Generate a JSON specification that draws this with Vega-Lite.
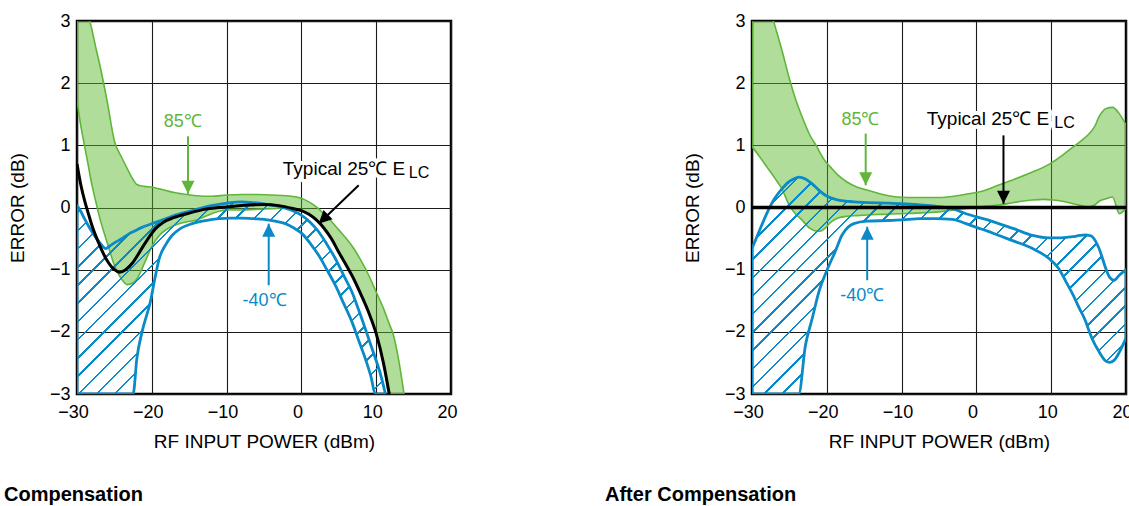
{
  "$schema": "https://vega.github.io/schema/vega-lite/v6.json",
  "background": "white",
  "padding": {"left": 2, "top": 10, "right": 5, "bottom": 5},
  "spacing": 144,
  "config": {
    "font": "Liberation Sans",
    "view": {"stroke": "#000", "strokeWidth": 2.5},
    "axis": {
      "grid": true, "gridColor": "#1a1a1a", "gridWidth": 1.1, "gridOpacity": 1,
      "domain": false, "ticks": false, "tickSize": 0,
      "labelFontSize": 18, "labelColor": "#000", "labelOverlap": false,
      "titleFontSize": 19, "titleFontWeight": "normal", "titleColor": "#000"
    }
  },
  "datasets": {
    "lg": [
      {"x": -30, "hi": 4.6, "lo": 1.72}, {"x": -29.5, "hi": 4.1, "lo": 1.32}, {"x": -29, "hi": 3.6, "lo": 1.0},
      {"x": -28.5, "hi": 3.12, "lo": 0.68}, {"x": -28, "hi": 2.86, "lo": 0.36}, {"x": -27.5, "hi": 2.58, "lo": 0.1},
      {"x": -27, "hi": 2.32, "lo": -0.15}, {"x": -26, "hi": 1.73, "lo": -0.55}, {"x": -25, "hi": 1.07, "lo": -0.93},
      {"x": -24, "hi": 0.8, "lo": -1.16}, {"x": -23.3, "hi": 0.63, "lo": -1.24}, {"x": -22.5, "hi": 0.45, "lo": -1.21},
      {"x": -22, "hi": 0.37, "lo": -1.15}, {"x": -21, "hi": 0.34, "lo": -0.9}, {"x": -20, "hi": 0.33, "lo": -0.63},
      {"x": -19, "hi": 0.3, "lo": -0.45}, {"x": -18, "hi": 0.27, "lo": -0.35}, {"x": -17, "hi": 0.24, "lo": -0.29},
      {"x": -16, "hi": 0.22, "lo": -0.25}, {"x": -14, "hi": 0.19, "lo": -0.2}, {"x": -12, "hi": 0.18, "lo": -0.1},
      {"x": -10, "hi": 0.2, "lo": -0.04}, {"x": -8, "hi": 0.21, "lo": -0.04}, {"x": -6, "hi": 0.21, "lo": -0.03},
      {"x": -4, "hi": 0.2, "lo": -0.02}, {"x": -2, "hi": 0.19, "lo": -0.01}, {"x": 0, "hi": 0.15, "lo": -0.05},
      {"x": 1, "hi": 0.09, "lo": -0.11}, {"x": 2, "hi": 0.01, "lo": -0.2}, {"x": 3, "hi": -0.1, "lo": -0.33},
      {"x": 4, "hi": -0.22, "lo": -0.5}, {"x": 5, "hi": -0.36, "lo": -0.72}, {"x": 6, "hi": -0.5, "lo": -0.93},
      {"x": 7, "hi": -0.66, "lo": -1.15}, {"x": 8, "hi": -0.86, "lo": -1.41}, {"x": 9, "hi": -1.09, "lo": -1.69},
      {"x": 10, "hi": -1.36, "lo": -2.03}, {"x": 11, "hi": -1.63, "lo": -2.52}, {"x": 11.7, "hi": -1.86, "lo": -2.97},
      {"x": 12.3, "hi": -2.05, "lo": -3.0}, {"x": 13, "hi": -2.45, "lo": -3.0}, {"x": 13.7, "hi": -2.98, "lo": -3.0}
    ],
    "lb": [
      {"x": -30, "hi": 0.03, "lo": -3}, {"x": -29.5, "hi": -0.06, "lo": -3}, {"x": -29, "hi": -0.18, "lo": -3},
      {"x": -28.5, "hi": -0.29, "lo": -3}, {"x": -28, "hi": -0.39, "lo": -3}, {"x": -27.5, "hi": -0.48, "lo": -3},
      {"x": -27, "hi": -0.56, "lo": -3}, {"x": -26.5, "hi": -0.63, "lo": -3}, {"x": -26.2, "hi": -0.66, "lo": -3},
      {"x": -25.5, "hi": -0.61, "lo": -3}, {"x": -25, "hi": -0.57, "lo": -3}, {"x": -24, "hi": -0.5, "lo": -3},
      {"x": -23, "hi": -0.42, "lo": -3}, {"x": -22.5, "hi": -0.39, "lo": -3}, {"x": -22, "hi": -0.36, "lo": -2.43},
      {"x": -21.3, "hi": -0.32, "lo": -2.0}, {"x": -20.2, "hi": -0.27, "lo": -1.52}, {"x": -19.5, "hi": -0.24, "lo": -1.09},
      {"x": -19, "hi": -0.22, "lo": -0.82}, {"x": -18.2, "hi": -0.18, "lo": -0.61}, {"x": -17.3, "hi": -0.14, "lo": -0.45},
      {"x": -16.2, "hi": -0.1, "lo": -0.34}, {"x": -14.6, "hi": -0.05, "lo": -0.26}, {"x": -12.8, "hi": 0.01, "lo": -0.21},
      {"x": -11, "hi": 0.05, "lo": -0.18}, {"x": -9.5, "hi": 0.08, "lo": -0.17}, {"x": -8, "hi": 0.09, "lo": -0.17},
      {"x": -6.5, "hi": 0.08, "lo": -0.18}, {"x": -5, "hi": 0.06, "lo": -0.19}, {"x": -3.5, "hi": 0.03, "lo": -0.22},
      {"x": -2.15, "hi": -0.01, "lo": -0.26}, {"x": -1, "hi": -0.06, "lo": -0.33}, {"x": 0.08, "hi": -0.13, "lo": -0.42},
      {"x": 1.2, "hi": -0.24, "lo": -0.58}, {"x": 2.31, "hi": -0.39, "lo": -0.77}, {"x": 3.4, "hi": -0.59, "lo": -1.0},
      {"x": 4.53, "hi": -0.82, "lo": -1.25}, {"x": 5.6, "hi": -1.08, "lo": -1.53}, {"x": 6.76, "hi": -1.36, "lo": -1.84},
      {"x": 7.6, "hi": -1.63, "lo": -2.12}, {"x": 8.54, "hi": -1.95, "lo": -2.43}, {"x": 9.3, "hi": -2.22, "lo": -2.72},
      {"x": 9.88, "hi": -2.42, "lo": -3.0}, {"x": 10.5, "hi": -2.65, "lo": -3.0}, {"x": 11.2, "hi": -2.98, "lo": -3.0}
    ],
    "lk": [
      {"x": -30, "y": 0.7}, {"x": -29.5, "y": 0.37}, {"x": -29, "y": 0.12}, {"x": -28.5, "y": -0.09},
      {"x": -28, "y": -0.29}, {"x": -27, "y": -0.6}, {"x": -26, "y": -0.85}, {"x": -25, "y": -1.0},
      {"x": -24.3, "y": -1.04}, {"x": -23.5, "y": -1.0}, {"x": -22.5, "y": -0.88}, {"x": -21.5, "y": -0.69},
      {"x": -20.5, "y": -0.5}, {"x": -19.5, "y": -0.34}, {"x": -18.5, "y": -0.24}, {"x": -17, "y": -0.16},
      {"x": -15, "y": -0.09}, {"x": -13, "y": -0.03}, {"x": -11, "y": 0.0}, {"x": -9, "y": 0.02},
      {"x": -7, "y": 0.04}, {"x": -5, "y": 0.05}, {"x": -3, "y": 0.03}, {"x": -1, "y": -0.02},
      {"x": 0, "y": -0.05}, {"x": 1, "y": -0.11}, {"x": 2, "y": -0.2}, {"x": 3, "y": -0.33},
      {"x": 4, "y": -0.5}, {"x": 5, "y": -0.72}, {"x": 6, "y": -0.93}, {"x": 7, "y": -1.15},
      {"x": 8, "y": -1.41}, {"x": 9, "y": -1.69}, {"x": 10, "y": -2.03}, {"x": 11, "y": -2.52},
      {"x": 11.7, "y": -2.97}, {"x": 12.1, "y": -3.25}
    ],
    "rg": [
      {"x": -30, "hi": 4.1, "lo": 0.98}, {"x": -29, "hi": 3.75, "lo": 0.82}, {"x": -28, "hi": 3.37, "lo": 0.65},
      {"x": -27, "hi": 2.95, "lo": 0.48}, {"x": -26, "hi": 2.53, "lo": 0.3}, {"x": -25, "hi": 2.07, "lo": 0.03},
      {"x": -24.2, "hi": 1.75, "lo": -0.1}, {"x": -23.5, "hi": 1.52, "lo": -0.18}, {"x": -22.2, "hi": 1.15, "lo": -0.34},
      {"x": -21.3, "hi": 0.97, "lo": -0.38}, {"x": -20.9, "hi": 0.88, "lo": -0.38}, {"x": -20.3, "hi": 0.76, "lo": -0.34},
      {"x": -19.5, "hi": 0.65, "lo": -0.24}, {"x": -18.5, "hi": 0.52, "lo": -0.17}, {"x": -17.3, "hi": 0.41, "lo": -0.14},
      {"x": -16, "hi": 0.33, "lo": -0.13}, {"x": -14.6, "hi": 0.28, "lo": -0.12}, {"x": -12.5, "hi": 0.21, "lo": -0.11},
      {"x": -10.5, "hi": 0.17, "lo": -0.1}, {"x": -8, "hi": 0.16, "lo": -0.09}, {"x": -5, "hi": 0.16, "lo": -0.07},
      {"x": -3, "hi": 0.18, "lo": -0.04}, {"x": -1, "hi": 0.22, "lo": -0.01}, {"x": 1, "hi": 0.27, "lo": 0.02},
      {"x": 3, "hi": 0.36, "lo": 0.04}, {"x": 5, "hi": 0.45, "lo": 0.08}, {"x": 7.5, "hi": 0.57, "lo": 0.12},
      {"x": 9, "hi": 0.65, "lo": 0.13}, {"x": 10.2, "hi": 0.73, "lo": 0.12}, {"x": 11.5, "hi": 0.84, "lo": 0.1},
      {"x": 12.9, "hi": 0.97, "lo": 0.06}, {"x": 14, "hi": 1.07, "lo": 0.03}, {"x": 15.1, "hi": 1.19, "lo": 0.01},
      {"x": 15.8, "hi": 1.3, "lo": 0.04}, {"x": 16.4, "hi": 1.46, "lo": 0.1}, {"x": 17.3, "hi": 1.59, "lo": 0.14},
      {"x": 18.2, "hi": 1.61, "lo": 0.17}, {"x": 19.1, "hi": 1.51, "lo": -0.1}, {"x": 20, "hi": 1.33, "lo": -0.01}
    ],
    "rb": [
      {"x": -30, "hi": -0.66, "lo": -3}, {"x": -29, "hi": -0.37, "lo": -3}, {"x": -28, "hi": -0.09, "lo": -3},
      {"x": -27, "hi": 0.14, "lo": -3}, {"x": -26, "hi": 0.3, "lo": -3}, {"x": -25, "hi": 0.42, "lo": -3},
      {"x": -24, "hi": 0.48, "lo": -3}, {"x": -23.75, "hi": 0.49, "lo": -3.0}, {"x": -22.86, "hi": 0.46, "lo": -2.22},
      {"x": -21.96, "hi": 0.38, "lo": -1.79}, {"x": -21.07, "hi": 0.28, "lo": -1.36}, {"x": -19.95, "hi": 0.18, "lo": -1.0},
      {"x": -18.84, "hi": 0.13, "lo": -0.7}, {"x": -18, "hi": 0.11, "lo": -0.45}, {"x": -17.2, "hi": 0.1, "lo": -0.32},
      {"x": -16.4, "hi": 0.09, "lo": -0.26}, {"x": -14.6, "hi": 0.08, "lo": -0.22}, {"x": -12, "hi": 0.07, "lo": -0.21},
      {"x": -10, "hi": 0.06, "lo": -0.2}, {"x": -7.5, "hi": 0.04, "lo": -0.18}, {"x": -5.5, "hi": 0.02, "lo": -0.18},
      {"x": -3.2, "hi": -0.02, "lo": -0.19}, {"x": -1.4, "hi": -0.1, "lo": -0.26}, {"x": 0, "hi": -0.15, "lo": -0.32},
      {"x": 1.5, "hi": -0.2, "lo": -0.38}, {"x": 3, "hi": -0.26, "lo": -0.45}, {"x": 5, "hi": -0.34, "lo": -0.54},
      {"x": 7.5, "hi": -0.45, "lo": -0.66}, {"x": 9.7, "hi": -0.49, "lo": -0.82}, {"x": 11, "hi": -0.49, "lo": -0.98},
      {"x": 12, "hi": -0.48, "lo": -1.2}, {"x": 12.9, "hi": -0.47, "lo": -1.4}, {"x": 13.8, "hi": -0.45, "lo": -1.63},
      {"x": 14.6, "hi": -0.44, "lo": -1.83}, {"x": 15.1, "hi": -0.45, "lo": -2.0}, {"x": 15.5, "hi": -0.47, "lo": -2.12},
      {"x": 16.4, "hi": -0.66, "lo": -2.32}, {"x": 17.3, "hi": -0.98, "lo": -2.47}, {"x": 17.8, "hi": -1.12, "lo": -2.49},
      {"x": 18.4, "hi": -1.17, "lo": -2.46}, {"x": 19.1, "hi": -1.09, "lo": -2.33}, {"x": 20, "hi": -1.0, "lo": -2.1}
    ],
    "rk": [{"x": -30, "y": 0}, {"x": 20, "y": 0}],
    "la": [
      {"s": "85℃", "x": -15.16, "y": 1.145, "x2": -15.16, "y2": 0.22},
      {"s": "-40℃", "x": -4.37, "y": -1.25, "x2": -4.37, "y2": -0.26},
      {"s": "25℃", "x": 7.66, "y": 0.357, "x2": 2.31, "y2": -0.26}
    ],
    "ra": [
      {"s": "85℃", "x": -14.8, "y": 1.19, "x2": -14.8, "y2": 0.357},
      {"s": "-40℃", "x": -14.6, "y": -1.17, "x2": -14.6, "y2": -0.31},
      {"s": "25℃", "x": 3.62, "y": 1.16, "x2": 3.62, "y2": 0.06}
    ],
    "lc": [
      {"s": "85℃", "label": "85℃", "x": -15.86, "y": 1.372},
      {"s": "-40℃", "label": "-40℃", "x": -4.93, "y": -1.509}
    ],
    "rc": [
      {"s": "85℃", "label": "85℃", "x": -15.5, "y": 1.4},
      {"s": "-40℃", "label": "-40℃", "x": -15.27, "y": -1.428}
    ],
    "lm": [
      {"part": "main", "label": "Typical 25℃ E", "x": 13.89, "y": 0.518},
      {"part": "sub", "label": "LC", "x": 14.35, "y": 0.47}
    ],
    "rm": [
      {"part": "main", "label": "Typical 25℃ E", "x": 9.74, "y": 1.332},
      {"part": "sub", "label": "LC", "x": 10.41, "y": 1.279}
    ]
  },
  "hconcat": [
    {
      "width": 374, "height": 373,
      "title": {"text": "Compensation", "orient": "bottom", "anchor": "start", "frame": "group", "dx": -73, "offset": 34, "fontSize": 20, "fontWeight": "bold", "color": "#000"},
      "encoding": {
        "x": {"type": "quantitative", "scale": {"domain": [-30, 20], "nice": false, "zero": false},
              "axis": {"title": "RF INPUT POWER (dBm)", "values": [-30, -20, -10, 0, 10, 20], "format": "d", "labelPadding": 9, "titlePadding": 11, "labelFlush": false, "labelOffset": -4}},
        "y": {"type": "quantitative", "scale": {"domain": [-3, 3], "nice": false, "zero": false},
              "axis": {"title": "ERROR (dB)", "values": [-3, -2, -1, 0, 1, 2, 3], "format": "d", "labelPadding": 7, "titlePadding": 22}},
        "color": {"type": "nominal", "scale": {"domain": ["85℃", "-40℃", "25℃"], "range": ["#5fb63a", "#0a8ac6", "#000000"]}, "legend": null}
      },
      "layer": [
        {
          "data": {"name": "lg"},
          "mark": {"type": "area", "interpolate": "monotone", "fill": "#5cb82e", "fillOpacity": 0.48, "stroke": "#5fb63a", "strokeWidth": 1.6, "clip": true},
          "encoding": {"x": {"field": "x"}, "y": {"field": "hi"}, "y2": {"field": "lo"}}
        },
        {
          "data": {"name": "lb"},
          "mark": {"type": "area", "interpolate": "monotone", "clip": true, "stroke": "#0a8ac6", "strokeWidth": 2.8, "strokeJoin": "round",
            "fill": {"gradient": "linear", "x1": 0, "y1": 0, "x2": 1.1691, "y2": 0.7287, "stops": [
              {"offset": 0, "color": "transparent"},
              {"offset": 0.0200, "color": "transparent"}, {"offset": 0.0200, "color": "#0a8ac6"}, {"offset": 0.0251, "color": "#0a8ac6"}, {"offset": 0.0251, "color": "transparent"},
              {"offset": 0.0564, "color": "transparent"}, {"offset": 0.0564, "color": "#0a8ac6"}, {"offset": 0.0615, "color": "#0a8ac6"}, {"offset": 0.0615, "color": "transparent"},
              {"offset": 0.0928, "color": "transparent"}, {"offset": 0.0928, "color": "#0a8ac6"}, {"offset": 0.0979, "color": "#0a8ac6"}, {"offset": 0.0979, "color": "transparent"},
              {"offset": 0.1292, "color": "transparent"}, {"offset": 0.1292, "color": "#0a8ac6"}, {"offset": 0.1343, "color": "#0a8ac6"}, {"offset": 0.1343, "color": "transparent"},
              {"offset": 0.1656, "color": "transparent"}, {"offset": 0.1656, "color": "#0a8ac6"}, {"offset": 0.1707, "color": "#0a8ac6"}, {"offset": 0.1707, "color": "transparent"},
              {"offset": 0.2020, "color": "transparent"}, {"offset": 0.2020, "color": "#0a8ac6"}, {"offset": 0.2071, "color": "#0a8ac6"}, {"offset": 0.2071, "color": "transparent"},
              {"offset": 0.2384, "color": "transparent"}, {"offset": 0.2384, "color": "#0a8ac6"}, {"offset": 0.2435, "color": "#0a8ac6"}, {"offset": 0.2435, "color": "transparent"},
              {"offset": 0.2748, "color": "transparent"}, {"offset": 0.2748, "color": "#0a8ac6"}, {"offset": 0.2799, "color": "#0a8ac6"}, {"offset": 0.2799, "color": "transparent"},
              {"offset": 0.3112, "color": "transparent"}, {"offset": 0.3112, "color": "#0a8ac6"}, {"offset": 0.3163, "color": "#0a8ac6"}, {"offset": 0.3163, "color": "transparent"},
              {"offset": 0.3476, "color": "transparent"}, {"offset": 0.3476, "color": "#0a8ac6"}, {"offset": 0.3527, "color": "#0a8ac6"}, {"offset": 0.3527, "color": "transparent"},
              {"offset": 0.3840, "color": "transparent"}, {"offset": 0.3840, "color": "#0a8ac6"}, {"offset": 0.3891, "color": "#0a8ac6"}, {"offset": 0.3891, "color": "transparent"},
              {"offset": 0.4204, "color": "transparent"}, {"offset": 0.4204, "color": "#0a8ac6"}, {"offset": 0.4255, "color": "#0a8ac6"}, {"offset": 0.4255, "color": "transparent"},
              {"offset": 0.4568, "color": "transparent"}, {"offset": 0.4568, "color": "#0a8ac6"}, {"offset": 0.4619, "color": "#0a8ac6"}, {"offset": 0.4619, "color": "transparent"},
              {"offset": 0.4932, "color": "transparent"}, {"offset": 0.4932, "color": "#0a8ac6"}, {"offset": 0.4983, "color": "#0a8ac6"}, {"offset": 0.4983, "color": "transparent"},
              {"offset": 0.5296, "color": "transparent"}, {"offset": 0.5296, "color": "#0a8ac6"}, {"offset": 0.5347, "color": "#0a8ac6"}, {"offset": 0.5347, "color": "transparent"},
              {"offset": 0.5660, "color": "transparent"}, {"offset": 0.5660, "color": "#0a8ac6"}, {"offset": 0.5711, "color": "#0a8ac6"}, {"offset": 0.5711, "color": "transparent"},
              {"offset": 0.6024, "color": "transparent"}, {"offset": 0.6024, "color": "#0a8ac6"}, {"offset": 0.6075, "color": "#0a8ac6"}, {"offset": 0.6075, "color": "transparent"},
              {"offset": 0.6388, "color": "transparent"}, {"offset": 0.6388, "color": "#0a8ac6"}, {"offset": 0.6439, "color": "#0a8ac6"}, {"offset": 0.6439, "color": "transparent"},
              {"offset": 0.6752, "color": "transparent"}, {"offset": 0.6752, "color": "#0a8ac6"}, {"offset": 0.6803, "color": "#0a8ac6"}, {"offset": 0.6803, "color": "transparent"},
              {"offset": 0.7116, "color": "transparent"}, {"offset": 0.7116, "color": "#0a8ac6"}, {"offset": 0.7167, "color": "#0a8ac6"}, {"offset": 0.7167, "color": "transparent"},
              {"offset": 0.7480, "color": "transparent"}, {"offset": 0.7480, "color": "#0a8ac6"}, {"offset": 0.7531, "color": "#0a8ac6"}, {"offset": 0.7531, "color": "transparent"},
              {"offset": 0.7844, "color": "transparent"}, {"offset": 0.7844, "color": "#0a8ac6"}, {"offset": 0.7895, "color": "#0a8ac6"}, {"offset": 0.7895, "color": "transparent"},
              {"offset": 0.8208, "color": "transparent"}, {"offset": 0.8208, "color": "#0a8ac6"}, {"offset": 0.8259, "color": "#0a8ac6"}, {"offset": 0.8259, "color": "transparent"},
              {"offset": 0.8572, "color": "transparent"}, {"offset": 0.8572, "color": "#0a8ac6"}, {"offset": 0.8623, "color": "#0a8ac6"}, {"offset": 0.8623, "color": "transparent"},
              {"offset": 0.8936, "color": "transparent"}, {"offset": 0.8936, "color": "#0a8ac6"}, {"offset": 0.8987, "color": "#0a8ac6"}, {"offset": 0.8987, "color": "transparent"},
              {"offset": 0.9300, "color": "transparent"}, {"offset": 0.9300, "color": "#0a8ac6"}, {"offset": 0.9351, "color": "#0a8ac6"}, {"offset": 0.9351, "color": "transparent"},
              {"offset": 0.9664, "color": "transparent"}, {"offset": 0.9664, "color": "#0a8ac6"}, {"offset": 0.9715, "color": "#0a8ac6"}, {"offset": 0.9715, "color": "transparent"},
              {"offset": 1, "color": "transparent"}
            ]}},
          "encoding": {"x": {"field": "x"}, "y": {"field": "hi"}, "y2": {"field": "lo"}}
        },
        {
          "data": {"name": "lk"},
          "mark": {"type": "line", "interpolate": "monotone", "color": "#000", "strokeWidth": 3, "clip": true},
          "encoding": {"x": {"field": "x"}, "y": {"field": "y"}}
        },
        {
          "data": {"name": "la"},
          "mark": {"type": "rule", "strokeWidth": 2},
          "encoding": {"x": {"field": "x"}, "y": {"field": "y"}, "x2": {"field": "x2"}, "y2": {"field": "y2"}, "color": {"field": "s"}}
        },
        {
          "data": {"name": "la"},
          "transform": [{"filter": "datum.s == '85℃'"}],
          "mark": {"type": "point", "shape": "M-0.5,-1L0.5,-1L0,0Z", "size": 676, "filled": true, "opacity": 1, "strokeWidth": 0},
          "encoding": {"x": {"field": "x2"}, "y": {"field": "y2"}, "color": {"field": "s"}}
        },
        {
          "data": {"name": "la"},
          "transform": [{"filter": "datum.s == '-40℃'"}],
          "mark": {"type": "point", "shape": "M-0.5,1L0.5,1L0,0Z", "size": 676, "filled": true, "opacity": 1, "strokeWidth": 0},
          "encoding": {"x": {"field": "x2"}, "y": {"field": "y2"}, "color": {"field": "s"}}
        },
        {
          "data": {"name": "la"},
          "transform": [{"filter": "datum.s == '25℃'"}],
          "mark": {"type": "point", "shape": "M-0.5,-1L0.5,-1L0,0Z", "size": 676, "angle": 46, "filled": true, "opacity": 1, "strokeWidth": 0},
          "encoding": {"x": {"field": "x2"}, "y": {"field": "y2"}, "color": {"field": "s"}}
        },
        {
          "data": {"name": "lc"},
          "mark": {"type": "text", "align": "center", "baseline": "middle", "fontSize": 18},
          "encoding": {"x": {"field": "x"}, "y": {"field": "y"}, "text": {"field": "label"}, "color": {"field": "s"}}
        },
        {
          "data": {"name": "lm"},
          "transform": [{"filter": "datum.part == 'main'"}],
          "mark": {"type": "text", "align": "right", "baseline": "alphabetic", "fontSize": 19, "fill": "white", "stroke": "white", "strokeWidth": 8, "strokeJoin": "round"},
          "encoding": {"x": {"field": "x"}, "y": {"field": "y"}, "text": {"field": "label"}}
        },
        {
          "data": {"name": "lm"},
          "transform": [{"filter": "datum.part == 'sub'"}],
          "mark": {"type": "text", "align": "left", "baseline": "alphabetic", "fontSize": 16, "fill": "white", "stroke": "white", "strokeWidth": 8, "strokeJoin": "round"},
          "encoding": {"x": {"field": "x"}, "y": {"field": "y"}, "text": {"field": "label"}}
        },
        {
          "data": {"name": "lm"},
          "transform": [{"filter": "datum.part == 'main'"}],
          "mark": {"type": "text", "align": "right", "baseline": "alphabetic", "fontSize": 19, "fill": "#000"},
          "encoding": {"x": {"field": "x"}, "y": {"field": "y"}, "text": {"field": "label"}}
        },
        {
          "data": {"name": "lm"},
          "transform": [{"filter": "datum.part == 'sub'"}],
          "mark": {"type": "text", "align": "left", "baseline": "alphabetic", "fontSize": 16, "fill": "#000"},
          "encoding": {"x": {"field": "x"}, "y": {"field": "y"}, "text": {"field": "label"}}
        }
      ]
    },
    {
      "width": 374, "height": 373,
      "title": {"text": "After Compensation", "orient": "bottom", "anchor": "start", "frame": "group", "dx": -147, "offset": 34, "fontSize": 20, "fontWeight": "bold", "color": "#000"},
      "encoding": {
        "x": {"type": "quantitative", "scale": {"domain": [-30, 20], "nice": false, "zero": false},
              "axis": {"title": "RF INPUT POWER (dBm)", "values": [-30, -20, -10, 0, 10, 20], "format": "d", "labelPadding": 9, "titlePadding": 11, "labelFlush": false, "labelOffset": -4}},
        "y": {"type": "quantitative", "scale": {"domain": [-3, 3], "nice": false, "zero": false},
              "axis": {"title": "ERROR (dB)", "values": [-3, -2, -1, 0, 1, 2, 3], "format": "d", "labelPadding": 7, "titlePadding": 22}},
        "color": {"type": "nominal", "scale": {"domain": ["85℃", "-40℃", "25℃"], "range": ["#5fb63a", "#0a8ac6", "#000000"]}, "legend": null}
      },
      "layer": [
        {
          "data": {"name": "rg"},
          "mark": {"type": "area", "interpolate": "monotone", "fill": "#5cb82e", "fillOpacity": 0.48, "stroke": "#5fb63a", "strokeWidth": 1.6, "clip": true},
          "encoding": {"x": {"field": "x"}, "y": {"field": "hi"}, "y2": {"field": "lo"}}
        },
        {
          "data": {"name": "rb"},
          "mark": {"type": "area", "interpolate": "monotone", "clip": true, "stroke": "#0a8ac6", "strokeWidth": 2.8, "strokeJoin": "round",
            "fill": {"gradient": "linear", "x1": 0, "y1": 0, "x2": 1.1822, "y2": 0.686, "stops": [
              {"offset": 0, "color": "transparent"},
              {"offset": 0.0150, "color": "transparent"}, {"offset": 0.0150, "color": "#0a8ac6"}, {"offset": 0.0193, "color": "#0a8ac6"}, {"offset": 0.0193, "color": "transparent"},
              {"offset": 0.0458, "color": "transparent"}, {"offset": 0.0458, "color": "#0a8ac6"}, {"offset": 0.0501, "color": "#0a8ac6"}, {"offset": 0.0501, "color": "transparent"},
              {"offset": 0.0767, "color": "transparent"}, {"offset": 0.0767, "color": "#0a8ac6"}, {"offset": 0.0810, "color": "#0a8ac6"}, {"offset": 0.0810, "color": "transparent"},
              {"offset": 0.1075, "color": "transparent"}, {"offset": 0.1075, "color": "#0a8ac6"}, {"offset": 0.1118, "color": "#0a8ac6"}, {"offset": 0.1118, "color": "transparent"},
              {"offset": 0.1383, "color": "transparent"}, {"offset": 0.1383, "color": "#0a8ac6"}, {"offset": 0.1426, "color": "#0a8ac6"}, {"offset": 0.1426, "color": "transparent"},
              {"offset": 0.1692, "color": "transparent"}, {"offset": 0.1692, "color": "#0a8ac6"}, {"offset": 0.1735, "color": "#0a8ac6"}, {"offset": 0.1735, "color": "transparent"},
              {"offset": 0.2000, "color": "transparent"}, {"offset": 0.2000, "color": "#0a8ac6"}, {"offset": 0.2043, "color": "#0a8ac6"}, {"offset": 0.2043, "color": "transparent"},
              {"offset": 0.2308, "color": "transparent"}, {"offset": 0.2308, "color": "#0a8ac6"}, {"offset": 0.2351, "color": "#0a8ac6"}, {"offset": 0.2351, "color": "transparent"},
              {"offset": 0.2616, "color": "transparent"}, {"offset": 0.2616, "color": "#0a8ac6"}, {"offset": 0.2659, "color": "#0a8ac6"}, {"offset": 0.2659, "color": "transparent"},
              {"offset": 0.2925, "color": "transparent"}, {"offset": 0.2925, "color": "#0a8ac6"}, {"offset": 0.2968, "color": "#0a8ac6"}, {"offset": 0.2968, "color": "transparent"},
              {"offset": 0.3233, "color": "transparent"}, {"offset": 0.3233, "color": "#0a8ac6"}, {"offset": 0.3276, "color": "#0a8ac6"}, {"offset": 0.3276, "color": "transparent"},
              {"offset": 0.3541, "color": "transparent"}, {"offset": 0.3541, "color": "#0a8ac6"}, {"offset": 0.3584, "color": "#0a8ac6"}, {"offset": 0.3584, "color": "transparent"},
              {"offset": 0.3850, "color": "transparent"}, {"offset": 0.3850, "color": "#0a8ac6"}, {"offset": 0.3893, "color": "#0a8ac6"}, {"offset": 0.3893, "color": "transparent"},
              {"offset": 0.4158, "color": "transparent"}, {"offset": 0.4158, "color": "#0a8ac6"}, {"offset": 0.4201, "color": "#0a8ac6"}, {"offset": 0.4201, "color": "transparent"},
              {"offset": 0.4466, "color": "transparent"}, {"offset": 0.4466, "color": "#0a8ac6"}, {"offset": 0.4509, "color": "#0a8ac6"}, {"offset": 0.4509, "color": "transparent"},
              {"offset": 0.4775, "color": "transparent"}, {"offset": 0.4775, "color": "#0a8ac6"}, {"offset": 0.4818, "color": "#0a8ac6"}, {"offset": 0.4818, "color": "transparent"},
              {"offset": 0.5083, "color": "transparent"}, {"offset": 0.5083, "color": "#0a8ac6"}, {"offset": 0.5126, "color": "#0a8ac6"}, {"offset": 0.5126, "color": "transparent"},
              {"offset": 0.5391, "color": "transparent"}, {"offset": 0.5391, "color": "#0a8ac6"}, {"offset": 0.5434, "color": "#0a8ac6"}, {"offset": 0.5434, "color": "transparent"},
              {"offset": 0.5699, "color": "transparent"}, {"offset": 0.5699, "color": "#0a8ac6"}, {"offset": 0.5742, "color": "#0a8ac6"}, {"offset": 0.5742, "color": "transparent"},
              {"offset": 0.6008, "color": "transparent"}, {"offset": 0.6008, "color": "#0a8ac6"}, {"offset": 0.6051, "color": "#0a8ac6"}, {"offset": 0.6051, "color": "transparent"},
              {"offset": 0.6316, "color": "transparent"}, {"offset": 0.6316, "color": "#0a8ac6"}, {"offset": 0.6359, "color": "#0a8ac6"}, {"offset": 0.6359, "color": "transparent"},
              {"offset": 0.6624, "color": "transparent"}, {"offset": 0.6624, "color": "#0a8ac6"}, {"offset": 0.6667, "color": "#0a8ac6"}, {"offset": 0.6667, "color": "transparent"},
              {"offset": 0.6933, "color": "transparent"}, {"offset": 0.6933, "color": "#0a8ac6"}, {"offset": 0.6976, "color": "#0a8ac6"}, {"offset": 0.6976, "color": "transparent"},
              {"offset": 0.7241, "color": "transparent"}, {"offset": 0.7241, "color": "#0a8ac6"}, {"offset": 0.7284, "color": "#0a8ac6"}, {"offset": 0.7284, "color": "transparent"},
              {"offset": 0.7549, "color": "transparent"}, {"offset": 0.7549, "color": "#0a8ac6"}, {"offset": 0.7592, "color": "#0a8ac6"}, {"offset": 0.7592, "color": "transparent"},
              {"offset": 0.7858, "color": "transparent"}, {"offset": 0.7858, "color": "#0a8ac6"}, {"offset": 0.7901, "color": "#0a8ac6"}, {"offset": 0.7901, "color": "transparent"},
              {"offset": 0.8166, "color": "transparent"}, {"offset": 0.8166, "color": "#0a8ac6"}, {"offset": 0.8209, "color": "#0a8ac6"}, {"offset": 0.8209, "color": "transparent"},
              {"offset": 0.8474, "color": "transparent"}, {"offset": 0.8474, "color": "#0a8ac6"}, {"offset": 0.8517, "color": "#0a8ac6"}, {"offset": 0.8517, "color": "transparent"},
              {"offset": 0.8782, "color": "transparent"}, {"offset": 0.8782, "color": "#0a8ac6"}, {"offset": 0.8825, "color": "#0a8ac6"}, {"offset": 0.8825, "color": "transparent"},
              {"offset": 0.9091, "color": "transparent"}, {"offset": 0.9091, "color": "#0a8ac6"}, {"offset": 0.9134, "color": "#0a8ac6"}, {"offset": 0.9134, "color": "transparent"},
              {"offset": 0.9399, "color": "transparent"}, {"offset": 0.9399, "color": "#0a8ac6"}, {"offset": 0.9442, "color": "#0a8ac6"}, {"offset": 0.9442, "color": "transparent"},
              {"offset": 0.9707, "color": "transparent"}, {"offset": 0.9707, "color": "#0a8ac6"}, {"offset": 0.9750, "color": "#0a8ac6"}, {"offset": 0.9750, "color": "transparent"},
              {"offset": 1, "color": "transparent"}
            ]}},
          "encoding": {"x": {"field": "x"}, "y": {"field": "hi"}, "y2": {"field": "lo"}}
        },
        {
          "data": {"name": "rk"},
          "mark": {"type": "line", "color": "#000", "strokeWidth": 3.5, "clip": true},
          "encoding": {"x": {"field": "x"}, "y": {"field": "y"}}
        },
        {
          "data": {"name": "ra"},
          "mark": {"type": "rule", "strokeWidth": 2},
          "encoding": {"x": {"field": "x"}, "y": {"field": "y"}, "x2": {"field": "x2"}, "y2": {"field": "y2"}, "color": {"field": "s"}}
        },
        {
          "data": {"name": "ra"},
          "transform": [{"filter": "datum.s != '-40℃'"}],
          "mark": {"type": "point", "shape": "M-0.5,-1L0.5,-1L0,0Z", "size": 676, "filled": true, "opacity": 1, "strokeWidth": 0},
          "encoding": {"x": {"field": "x2"}, "y": {"field": "y2"}, "color": {"field": "s"}}
        },
        {
          "data": {"name": "ra"},
          "transform": [{"filter": "datum.s == '-40℃'"}],
          "mark": {"type": "point", "shape": "M-0.5,1L0.5,1L0,0Z", "size": 676, "filled": true, "opacity": 1, "strokeWidth": 0},
          "encoding": {"x": {"field": "x2"}, "y": {"field": "y2"}, "color": {"field": "s"}}
        },
        {
          "data": {"name": "rc"},
          "mark": {"type": "text", "align": "center", "baseline": "middle", "fontSize": 18},
          "encoding": {"x": {"field": "x"}, "y": {"field": "y"}, "text": {"field": "label"}, "color": {"field": "s"}}
        },
        {
          "data": {"name": "rm"},
          "transform": [{"filter": "datum.part == 'main'"}],
          "mark": {"type": "text", "align": "right", "baseline": "alphabetic", "fontSize": 19, "fill": "white", "stroke": "white", "strokeWidth": 8, "strokeJoin": "round"},
          "encoding": {"x": {"field": "x"}, "y": {"field": "y"}, "text": {"field": "label"}}
        },
        {
          "data": {"name": "rm"},
          "transform": [{"filter": "datum.part == 'sub'"}],
          "mark": {"type": "text", "align": "left", "baseline": "alphabetic", "fontSize": 16, "fill": "white", "stroke": "white", "strokeWidth": 8, "strokeJoin": "round"},
          "encoding": {"x": {"field": "x"}, "y": {"field": "y"}, "text": {"field": "label"}}
        },
        {
          "data": {"name": "rm"},
          "transform": [{"filter": "datum.part == 'main'"}],
          "mark": {"type": "text", "align": "right", "baseline": "alphabetic", "fontSize": 19, "fill": "#000"},
          "encoding": {"x": {"field": "x"}, "y": {"field": "y"}, "text": {"field": "label"}}
        },
        {
          "data": {"name": "rm"},
          "transform": [{"filter": "datum.part == 'sub'"}],
          "mark": {"type": "text", "align": "left", "baseline": "alphabetic", "fontSize": 16, "fill": "#000"},
          "encoding": {"x": {"field": "x"}, "y": {"field": "y"}, "text": {"field": "label"}}
        }
      ]
    }
  ]
}
